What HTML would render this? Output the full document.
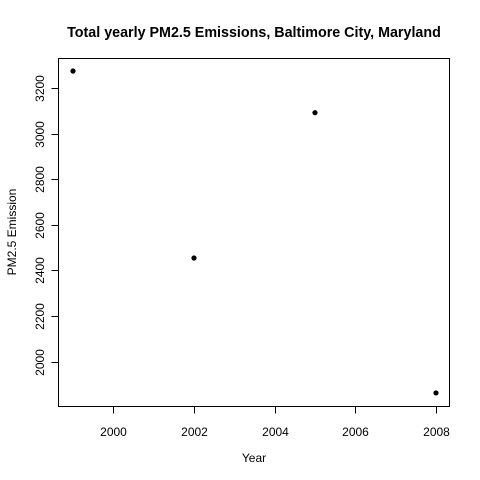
<!DOCTYPE html>
<html><head><meta charset="utf-8"><style>
body{margin:0;background:#fff}
svg{display:block;font-family:"Liberation Sans",Arial,sans-serif}
</style></head><body>
<svg id="chart" width="480" height="480">
<text x="254" y="37" font-size="14.3" font-weight="bold" text-anchor="middle">Total yearly PM2.5 Emissions, Baltimore City, Maryland</text>
<text x="254" y="462" font-size="12" text-anchor="middle">Year</text>
<text x="12" y="232" font-size="12" text-anchor="middle" transform="rotate(-90 12 232)" dy="4">PM2.5 Emission</text>
<rect x="58.5" y="58.5" width="391" height="348" fill="none" stroke="#000"/>
<g id="axes"></g><g id="points"></g>
</svg>
<script>
const years=[1999,2002,2005,2008];
const emissions=[3274.18,2453.92,3091.35,1862.28];
const xTicks=[2000,2002,2004,2006,2008];
const yTicks=[2000,2200,2400,2600,2800,3000,3200];
const NS="http://www.w3.org/2000/svg";
function xs(v){return 73+(v-1999)*40.33;}
function ys(v){return 71+(3274.18-v)*0.228;}
const ax=document.getElementById('axes'),pts=document.getElementById('points');
function mk(t,a,p){const e=document.createElementNS(NS,t);for(const k in a)e.setAttribute(k,a[k]);p.appendChild(e);return e;}
xTicks.forEach(t=>{const x=Math.round(xs(t))+0.5;
 const l=mk('line',{x1:x,x2:x,y1:406.5,y2:413.5,stroke:'#000'},ax);
 
 
 const tx=mk('text',{x:x,y:436,'font-size':12,'text-anchor':'middle'},ax);tx.textContent=t;
 
 });
yTicks.forEach(t=>{const y=Math.round(ys(t))+0.5;
 const l=mk('line',{x1:51.5,x2:58.5,y1:y,y2:y,stroke:'#000'},ax);
 
 
 const tx=mk('text',{x:40,y:y,'font-size':12,'text-anchor':'middle',dy:4,transform:`rotate(-90 40 ${y})`},ax);tx.textContent=t;
 
 });
years.forEach((yr,i)=>{const c=mk('circle',{cx:xs(yr),cy:ys(emissions[i]),r:2.6,fill:'#000'},pts);
 
 });
</script>
</body></html>
